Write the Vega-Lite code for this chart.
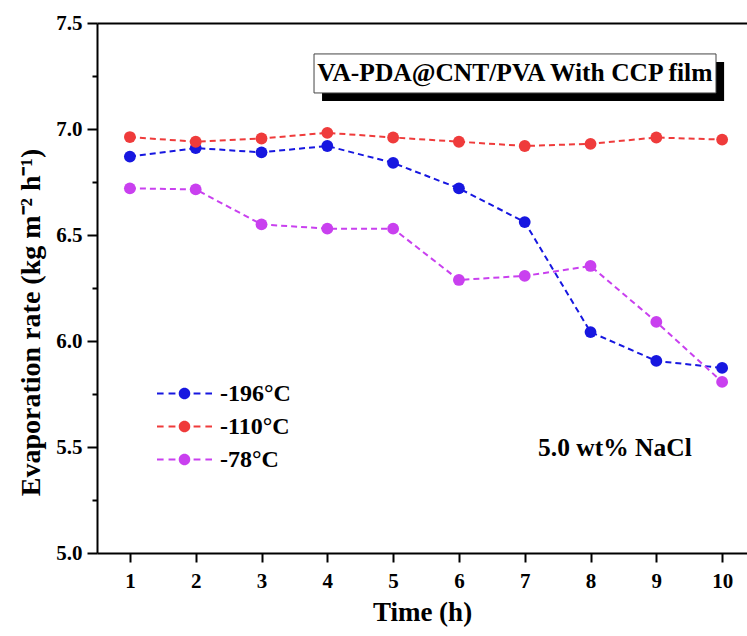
{
  "$schema": "https://vega.github.io/schema/vega-lite/v6.json",
  "width": 650,
  "height": 530,
  "autosize": "none",
  "padding": {"left": 97, "top": 23, "right": 0, "bottom": 83},
  "background": "white",
  "config": {
    "view": {"stroke": null},
    "font": "Liberation Serif",
    "axis": {"grid": false, "domainColor": "black", "domainWidth": 2, "tickColor": "black", "tickWidth": 2, "labelFont": "Liberation Serif", "labelFontWeight": "bold", "labelColor": "black", "titleFont": "Liberation Serif", "titleFontWeight": "bold", "titleColor": "black"},
    "legend": {"orient": "none", "legendX": 60, "legendY": 354, "title": null, "symbolType": "M-1,-0.04 L-0.76,-0.04 L-0.76,0.04 L-1,0.04 Z M-0.58,-0.04 L-0.33,-0.04 L-0.33,0.04 L-0.58,0.04 Z M0.33,-0.04 L0.58,-0.04 L0.58,0.04 L0.33,0.04 Z M0.76,-0.04 L1,-0.04 L1,0.04 L0.76,0.04 Z M-0.21,0 A0.21,0.21 0 1,1 0.21,0 A0.21,0.21 0 1,1 -0.21,0 Z", "symbolSize": 3025, "symbolStrokeWidth": 0, "labelFont": "Liberation Serif", "labelFontWeight": "bold", "labelFontSize": 24, "labelColor": "black", "labelOffset": 8, "rowPadding": 0, "clipHeight": 33}
  },
  "datasets": {
    "rates": [
      {"time": 1, "series": "-196°C", "rate": 6.87},
      {"time": 2, "series": "-196°C", "rate": 6.91},
      {"time": 3, "series": "-196°C", "rate": 6.89},
      {"time": 4, "series": "-196°C", "rate": 6.92},
      {"time": 5, "series": "-196°C", "rate": 6.84},
      {"time": 6, "series": "-196°C", "rate": 6.72},
      {"time": 7, "series": "-196°C", "rate": 6.561},
      {"time": 8, "series": "-196°C", "rate": 6.042},
      {"time": 9, "series": "-196°C", "rate": 5.906},
      {"time": 10, "series": "-196°C", "rate": 5.873},
      {"time": 1, "series": "-110°C", "rate": 6.962},
      {"time": 2, "series": "-110°C", "rate": 6.94},
      {"time": 3, "series": "-110°C", "rate": 6.955},
      {"time": 4, "series": "-110°C", "rate": 6.982},
      {"time": 5, "series": "-110°C", "rate": 6.96},
      {"time": 6, "series": "-110°C", "rate": 6.94},
      {"time": 7, "series": "-110°C", "rate": 6.92},
      {"time": 8, "series": "-110°C", "rate": 6.93},
      {"time": 9, "series": "-110°C", "rate": 6.96},
      {"time": 10, "series": "-110°C", "rate": 6.95},
      {"time": 1, "series": "-78°C", "rate": 6.72},
      {"time": 2, "series": "-78°C", "rate": 6.715},
      {"time": 3, "series": "-78°C", "rate": 6.55},
      {"time": 4, "series": "-78°C", "rate": 6.53},
      {"time": 5, "series": "-78°C", "rate": 6.53},
      {"time": 6, "series": "-78°C", "rate": 6.288},
      {"time": 7, "series": "-78°C", "rate": 6.307},
      {"time": 8, "series": "-78°C", "rate": 6.354},
      {"time": 9, "series": "-78°C", "rate": 6.09},
      {"time": 10, "series": "-78°C", "rate": 5.807}
    ],
    "box": [{"x": 3.798, "x2": 9.907, "y": 7.354, "y2": 7.17, "sx": 3.92, "sx2": 10.03, "sy": 7.316, "sy2": 7.132, "label": "VA-PDA@CNT/PVA With CCP film", "lx": 6.85, "ly": 7.262}],
    "note": [{"x": 8.37, "y": 5.495, "label": "5.0 wt% NaCl"}]
  },
  "resolve": {"axis": {"x": "independent", "y": "independent"}},
  "layer": [
    {
      "data": {"name": "rates"},
      "mark": {"type": "line", "strokeDash": [6, 4], "strokeWidth": 2},
      "encoding": {
        "x": {"field": "time", "type": "quantitative", "scale": {"domain": [0.5, 10.378], "nice": false, "zero": false},
          "axis": {"orient": "bottom", "values": [1,2,3,4,5,6,7,8,9,10], "tickSize": 9, "labelFontSize": 21, "labelPadding": 8, "title": "Time (h)", "titleFontSize": 27, "titlePadding": 8}},
        "y": {"field": "rate", "type": "quantitative", "scale": {"domain": [5, 7.5], "nice": false, "zero": false},
          "axis": {"orient": "left", "values": [5, 5.5, 6, 6.5, 7, 7.5], "format": ".1f", "tickSize": 10, "labelFontSize": 21, "labelPadding": 5, "title": "Evaporation rate (kg m⁻² h⁻¹)", "titleFontSize": 28, "titlePadding": 10, "titleY": 299}},
        "color": {"field": "series", "type": "nominal", "scale": {"domain": ["-196°C", "-110°C", "-78°C"], "range": ["#1717e0", "#ef3b3b", "#c940ef"]}},
        "detail": {"field": "series"}
      }
    },
    {
      "data": {"name": "rates"},
      "mark": {"type": "point", "filled": true, "opacity": 1, "size": 140},
      "encoding": {
        "x": {"field": "time", "type": "quantitative", "axis": {"orient": "top", "labels": false, "ticks": false, "title": null, "domain": true}},
        "y": {"field": "rate", "type": "quantitative", "axis": {"orient": "left", "values": [5.25, 5.75, 6.25, 6.75, 7.25], "labels": false, "domain": false, "tickSize": 5, "title": null}},
        "color": {"field": "series", "type": "nominal"}
      }
    },
    {
      "data": {"name": "box"},
      "mark": {"type": "rect", "color": "black"},
      "encoding": {"x": {"field": "sx", "type": "quantitative", "axis": null}, "x2": {"field": "sx2"}, "y": {"field": "sy", "type": "quantitative", "axis": null}, "y2": {"field": "sy2"}}
    },
    {
      "data": {"name": "box"},
      "mark": {"type": "rect", "fill": "white", "stroke": "#444", "strokeWidth": 1},
      "encoding": {"x": {"field": "x", "type": "quantitative", "axis": null}, "x2": {"field": "x2"}, "y": {"field": "y", "type": "quantitative", "axis": null}, "y2": {"field": "y2"}}
    },
    {
      "data": {"name": "box"},
      "mark": {"type": "text", "font": "Liberation Serif", "fontWeight": "bold", "fontSize": 25.5, "color": "black", "align": "center", "baseline": "middle"},
      "encoding": {"x": {"field": "lx", "type": "quantitative", "axis": null}, "y": {"field": "ly", "type": "quantitative", "axis": null}, "text": {"field": "label"}}
    },
    {
      "data": {"name": "note"},
      "mark": {"type": "text", "font": "Liberation Serif", "fontWeight": "bold", "fontSize": 25.5, "color": "black", "align": "center", "baseline": "middle"},
      "encoding": {"x": {"field": "x", "type": "quantitative", "axis": null}, "y": {"field": "y", "type": "quantitative", "axis": null}, "text": {"field": "label"}}
    }
  ]
}
